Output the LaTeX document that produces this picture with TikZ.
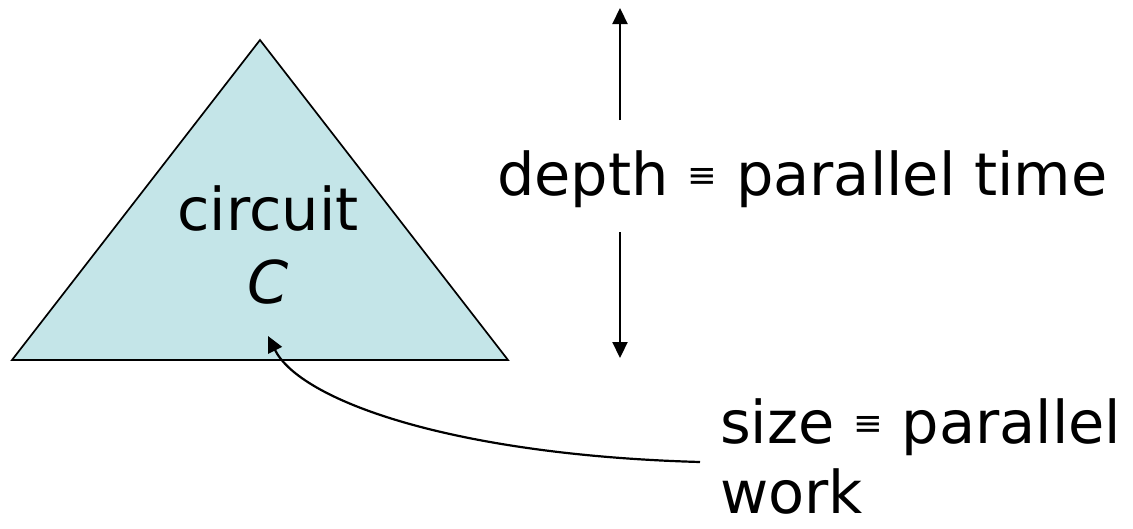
\documentclass[tikz,border=0pt]{standalone}
\usepackage{fontspec}
\setmainfont{DejaVu Sans}
\usetikzlibrary{arrows.meta}
\definecolor{trifill}{RGB}{196,229,232}
\tikzset{
  lbl/.style={inner sep=0pt, font=\fontsize{59}{70}\selectfont},
  tri/.style={draw=black, line width=1.7pt, fill=trifill, line join=miter},
  arr/.style={line width=2.2pt, -{Triangle[length=16pt,width=15pt]}},
}
\newcommand{\eqv}{\raisebox{0.12em}{\scalebox{0.6}{≡}}}
\begin{document}
\begin{tikzpicture}[x=1pt,y=-1pt]
\useasboundingbox (0,0) rectangle (1133,528);
% triangle
\coordinate (apex) at (260,40);
\coordinate (bl) at (12,360);
\coordinate (br) at (508,360);
\draw[tri] (apex) -- (bl) -- (br) -- cycle;
\node[lbl, anchor=base] (circ) at (268,230) {circuit};
\node[lbl, anchor=base] (cC) at (268,303) {\textit{C}};
% depth
\node[lbl, anchor=base west] (depth) at (497,195) {depth \eqv{} parallel time};
\coordinate (dtop) at (620,8);
\coordinate (dtopstart) at (620,120);
\coordinate (dbot) at (620,358);
\coordinate (dbotstart) at (620,232);
\draw[arr] (dtopstart) -- (dtop);
\draw[arr] (dbotstart) -- (dbot);
% size
\node[lbl, anchor=base west, align=left] (size) at (720,513) {size \eqv{} parallel\\work};
\coordinate (cstart) at (700,462);
\coordinate (ctip) at (268,336);
\draw[arr] (cstart) .. controls (450,455) and (300,400) .. (ctip);
\end{tikzpicture}
\end{document}
